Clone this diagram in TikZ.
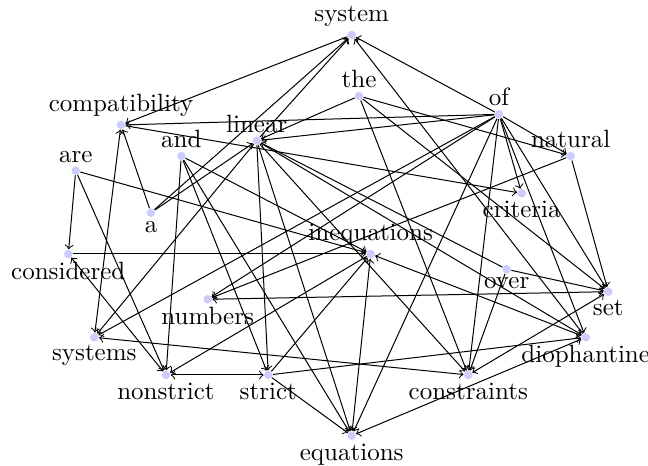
\documentclass[tikz,border=0pt]{standalone}
\begin{document}
\begin{tikzpicture}[x=0.4pt,y=-0.4pt,
  w/.style={circle,fill=blue!20,inner sep=0pt,minimum size=3.4pt},
  e/.style={->},
  ee/.style={<->},
  every label/.style={inner sep=1.2pt}]
\useasboundingbox (0,0) rectangle (648,466);
\node[w,label=above:system] (system) at (351.7,35) {};
\node[w,label=above:the] (the) at (359,96) {};
\node[w,label=above:of] (of) at (499,114.3) {};
\node[w,label=above:compatibility] (compat) at (121,125) {};
\node[w,label=above:linear] (linear) at (256.7,140.7) {};
\node[w,label=above:and] (and) at (181.3,156) {};
\node[w,label=above:natural] (natural) at (570.7,156) {};
\node[w,label=above:are] (are) at (75.7,170.7) {};
\node[w,label=below:a] (a) at (151,212.7) {};
\node[w,label=below:criteria] (criteria) at (521.7,193.3) {};
\node[w,label=below:considered] (considered) at (68.3,254) {};
\node[w,label=above:inequations] (ineq) at (370.7,254) {};
\node[w,label=below:over] (over) at (506.7,269.3) {};
\node[w,label=below:numbers] (numbers) at (207.7,299.3) {};
\node[w,label=below:set] (set) at (608.3,291.7) {};
\node[w,label=below:systems] (systems) at (94.3,337.3) {};
\node[w,label=below:diophantine] (dioph) at (585.7,337.3) {};
\node[w,label=below:nonstrict] (nonstrict) at (166,375) {};
\node[w,label=below:strict] (strict) at (268.3,375) {};
\node[w,label=below:constraints] (constraints) at (468.3,375) {};
\node[w,label=below:equations] (equations) at (351.7,435.7) {};
\draw[e] (system) -- (compat);
\draw[e] (of) -- (compat);
\draw[e] (compat) -- (criteria);
\draw[e] (a) -- (compat);
\draw[ee] (compat) -- (systems);
\draw[e] (are) -- (considered);
\draw[e] (are) -- (nonstrict);
\draw[e] (are) -- (ineq);
\draw[e] (a) -- (linear);
\draw[e] (a) -- (system);
\draw[e] (and) -- (nonstrict);
\draw[e] (and) -- (strict);
\draw[e] (and) -- (equations);
\draw[e] (and) -- (ineq);
\draw[e] (linear) -- (system);
\draw[e] (the) -- (linear);
\draw[e] (of) -- (linear);
\draw[e] (linear) -- (systems);
\draw[e] (linear) -- (strict);
\draw[e] (linear) -- (equations);
\draw[e] (linear) -- (constraints);
\draw[e] (over) -- (linear);
\draw[e] (linear) -- (dioph);
\draw[e] (dioph) -- (system);
\draw[e] (of) -- (system);
\draw[e] (of) -- (systems);
\draw[e] (of) -- (numbers);
\draw[e] (of) -- (natural);
\draw[e] (of) -- (criteria);
\draw[e] (of) -- (set);
\draw[e] (of) -- (dioph);
\draw[e] (of) -- (constraints);
\draw[e] (of) -- (equations);
\draw[e] (the) -- (natural);
\draw[e] (the) -- (constraints);
\draw[e] (the) -- (set);
\draw[e] (natural) -- (set);
\draw[e] (natural) -- (numbers);
\draw[ee] (numbers) -- (set);
\draw[e] (over) -- (set);
\draw[e] (over) -- (constraints);
\draw[ee] (constraints) -- (set);
\draw[ee] (systems) -- (constraints);
\draw[e] (strict) -- (dioph);
\draw[ee] (equations) -- (dioph);
\draw[ee] (ineq) -- (dioph);
\draw[ee] (nonstrict) -- (strict);
\draw[e] (strict) -- (ineq);
\draw[e] (ineq) -- (nonstrict);
\draw[ee] (considered) -- (nonstrict);
\draw[e] (considered) -- (ineq);
\draw[ee] (ineq) -- (equations);
\draw[e] (strict) -- (equations);
\end{tikzpicture}
\end{document}
